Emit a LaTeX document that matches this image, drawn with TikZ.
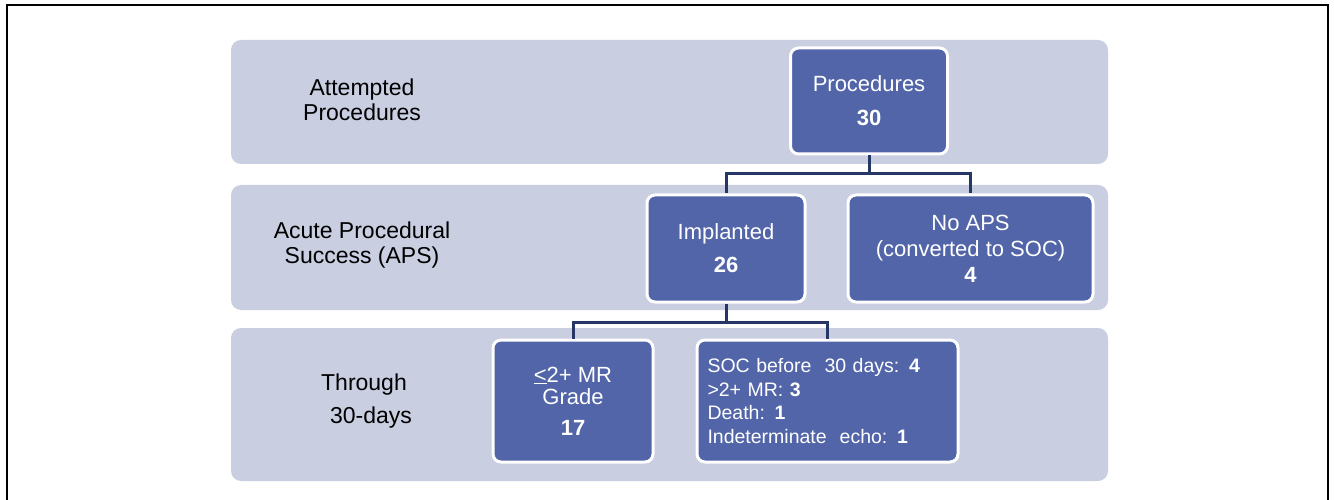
\documentclass[tikz,border=0pt]{standalone}
\usepackage{fontspec}
\setmainfont{Liberation Sans}
\definecolor{bandc}{RGB}{201,206,225}
\definecolor{boxc}{RGB}{82,101,168}
\definecolor{connc}{RGB}{38,55,102}
\tikzset{
  band/.style={fill=bandc, rounded corners=10pt, inner sep=0pt},
  fbox/.style={fill=boxc, draw=white, line width=3pt, rounded corners=8pt, text=white, align=center, inner sep=0pt, font=\fontsize{22}{26}\selectfont},
  lbl/.style={align=center, text=black, font=\fontsize{23}{25}\selectfont},
  conn/.style={draw=connc, line width=3pt},
}
\begin{document}
\begin{tikzpicture}[x=1pt,y=-1pt]
\useasboundingbox (0,0) rectangle (1334,500);
\fill[white] (0,0) rectangle (1334,500);
\draw[black, line width=2pt] (7,501) -- (7,5) -- (1328,5) -- (1328,501);
% bands
\node[band, minimum width=877pt, minimum height=124pt] (b1) at (669.5,102) {};
\node[band, minimum width=877pt, minimum height=125pt] (b2) at (669.5,247.5) {};
\node[band, minimum width=877pt, minimum height=153pt] (b3) at (669.5,404.5) {};
% left labels
\node[lbl] (l1) at (362,100) {Attempted\\Procedures};
\node[lbl] (l2) at (362,245) {Acute Procedural\\Success (APS)};
\node[lbl, font=\fontsize{23}{33}\selectfont] (l3) at (364,401) {Through\\\hspace*{14pt}30-days};
% junction points
\coordinate (j1) at (869,174);
\coordinate (j2) at (726,322);
% boxes
\node[fbox, minimum width=157pt, minimum height=106pt] (p) at (869,101) {Procedures\\[8pt]\textbf{30}};
\node[fbox, minimum width=158pt, minimum height=107pt] (imp) at (726,248.5) {Implanted\\[7pt]\textbf{26}};
\node[fbox, minimum width=245pt, minimum height=107pt] (nap) at (970.5,248.5) {No APS\\(converted to SOC)\\\textbf{4}};
\node[fbox, minimum width=160pt, minimum height=122pt] (mr) at (573,401) {\underline{<}2+ MR\\[-4pt]Grade\\[5pt]\textbf{17}};
\node[fbox, minimum width=261pt, minimum height=122pt, align=left, text width=240pt, font=\fontsize{19.5}{23.5}\selectfont] (soc) at (827.5,401) {SOC before\ \ 30 days: \textbf{4}\\>2+ MR: \textbf{3}\\Death: \textbf{1}\\Indeterminate\ \ echo: \textbf{1}};
% connectors
\draw[conn] (p.south) -- (j1);
\draw[conn] (j1) -| (imp.north);
\draw[conn] (j1) -| (nap.north);
\draw[conn] (imp.south) -- (j2);
\draw[conn] (j2) -| (mr.north);
\draw[conn] (j2) -| (soc.north);
\end{tikzpicture}
\end{document}
